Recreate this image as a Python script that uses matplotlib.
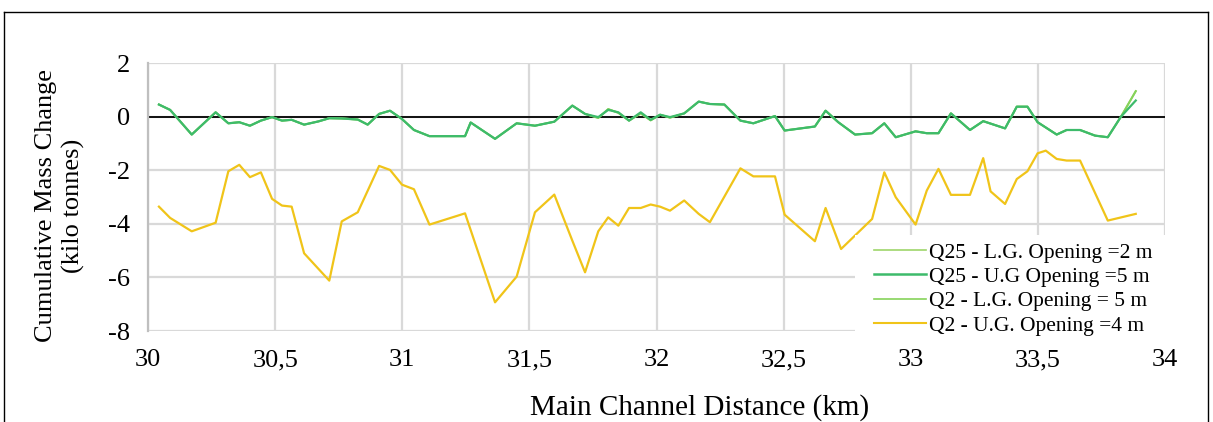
import matplotlib
matplotlib.use("Agg")
import matplotlib.pyplot as plt
from matplotlib.lines import Line2D

# ---------------- data ----------------
x_green = [30.043, 30.087, 30.172, 30.266, 30.316, 30.359, 30.401, 30.444, 30.488, 30.527,
           30.565, 30.614, 30.670, 30.713, 30.762, 30.825, 30.864, 30.909, 30.952, 30.999,
           31.046, 31.107, 31.247, 31.269, 31.365, 31.450, 31.522, 31.598, 31.669, 31.719,
           31.771, 31.810, 31.850, 31.892, 31.938, 31.977, 32.014, 32.053, 32.109, 32.166,
           32.210, 32.267, 32.330, 32.381, 32.466, 32.504, 32.623, 32.665, 32.715, 32.781,
           32.848, 32.896, 32.941, 33.019, 33.063, 33.109, 33.158, 33.233, 33.285, 33.371,
           33.417, 33.459, 33.499, 33.574, 33.613, 33.666, 33.725, 33.775, 33.827, 33.885]

q25_ug = [0.45, 0.25, -0.67, 0.16, -0.25, -0.21, -0.34, -0.15, -0.02, -0.15,
          -0.12, -0.30, -0.18, -0.06, -0.07, -0.11, -0.30, 0.10, 0.22, -0.09,
          -0.50, -0.73, -0.73, -0.22, -0.83, -0.25, -0.34, -0.19, 0.41, 0.10,
          -0.02, 0.25, 0.16, -0.15, 0.16, -0.12, 0.07, -0.02, 0.12, 0.56,
          0.47, 0.45, -0.15, -0.25, 0.02, -0.52, -0.37, 0.22, -0.21, -0.67,
          -0.62, -0.25, -0.77, -0.55, -0.62, -0.62, 0.12, -0.50, -0.17, -0.44,
          0.37, 0.37, -0.21, -0.67, -0.50, -0.50, -0.71, -0.77, 0.00, 0.60]

q25_lg = [0.45, 0.25, -0.67, 0.16, -0.25, -0.21, -0.34, -0.15, -0.02, -0.15,
          -0.12, -0.30, -0.18, -0.06, -0.07, -0.11, -0.30, 0.10, 0.22, -0.09,
          -0.50, -0.73, -0.73, -0.22, -0.83, -0.25, -0.34, -0.19, 0.41, 0.10,
          -0.05, 0.28, 0.14, -0.15, 0.12, -0.14, 0.07, -0.04, 0.12, 0.56,
          0.47, 0.45, -0.15, -0.25, 0.02, -0.52, -0.37, 0.22, -0.21, -0.67,
          -0.62, -0.25, -0.77, -0.55, -0.62, -0.62, 0.12, -0.50, -0.17, -0.44,
          0.37, 0.37, -0.21, -0.67, -0.50, -0.50, -0.71, -0.77, 0.00, 0.95]

q2_lg = [0.45, 0.25, -0.67, 0.16, -0.25, -0.21, -0.34, -0.15, -0.02, -0.15,
         -0.12, -0.30, -0.18, -0.06, -0.07, -0.11, -0.30, 0.10, 0.22, -0.09,
         -0.50, -0.73, -0.73, -0.22, -0.83, -0.25, -0.34, -0.19, 0.41, 0.10,
         -0.05, 0.28, 0.14, -0.15, 0.12, -0.14, 0.07, -0.04, 0.12, 0.56,
         0.47, 0.45, -0.15, -0.25, 0.02, -0.52, -0.37, 0.22, -0.21, -0.67,
         -0.62, -0.25, -0.77, -0.55, -0.62, -0.62, 0.12, -0.50, -0.17, -0.44,
         0.37, 0.37, -0.21, -0.67, -0.50, -0.50, -0.71, -0.77, 0.00, 0.95]

x_yellow = [30.043, 30.087, 30.172, 30.266, 30.316, 30.359, 30.401, 30.444, 30.488, 30.527,
            30.565, 30.614, 30.713, 30.762, 30.825, 30.909, 30.952, 30.999, 31.046, 31.107,
            31.247, 31.365, 31.450, 31.522, 31.598, 31.669, 31.719, 31.771, 31.810, 31.850,
            31.892, 31.938, 31.977, 32.014, 32.053, 32.109, 32.166, 32.210, 32.330, 32.381,
            32.466, 32.504, 32.623, 32.665, 32.726, 32.848, 32.896, 32.941, 33.019, 33.063,
            33.109, 33.158, 33.233, 33.285, 33.314, 33.371, 33.417, 33.459, 33.499, 33.531,
            33.574, 33.613, 33.666, 33.775, 33.885]

q2_ug = [-3.36, -3.78, -4.28, -3.96, -2.04, -1.80, -2.26, -2.08, -3.07, -3.32,
         -3.36, -5.10, -6.12, -3.91, -3.57, -1.84, -1.99, -2.54, -2.71, -4.03,
         -3.61, -6.93, -5.97, -3.57, -2.91, -4.63, -5.81, -4.28, -3.76, -4.07,
         -3.41, -3.41, -3.28, -3.36, -3.51, -3.13, -3.63, -3.94, -1.93, -2.23,
         -2.23, -3.66, -4.65, -3.41, -4.94, -3.82, -2.08, -3.01, -4.03, -2.76,
         -1.95, -2.92, -2.92, -1.55, -2.79, -3.26, -2.33, -2.04, -1.37, -1.27,
         -1.58, -1.64, -1.64, -3.88, -3.63]

labels = ["Q25 - L.G. Opening =2 m", "Q25 - U.G Opening =5 m",
          "Q2 - L.G. Opening = 5 m", "Q2 - U.G. Opening =4 m"]
x_ticks = [30, 30.5, 31, 31.5, 32, 32.5, 33, 33.5, 34]
x_ticklabels = ["30", "30,5", "31", "31,5", "32", "32,5", "33", "33,5", "34"]
y_ticks = [2, 0, -2, -4, -6, -8]

# ---------------- figure ----------------
W, H = 1213, 422
fig = plt.figure(figsize=(W / 100, H / 100), dpi=100)
plt.rcParams['font.family'] = ['Liberation Serif', 'DejaVu Serif']

L, R, T, B = 148, 1165, 63, 331
ax = fig.add_axes([L / W, 1 - B / H, (R - L) / W, (B - T) / H])
ax.set_xlim(30, 34)
ax.set_ylim(-8, 2)

grid_c = '#D9D9D9'
ax.set_xticks(x_ticks)
ax.set_xticklabels(x_ticklabels)
ax.set_yticks(y_ticks)
ax.set_yticklabels([str(v) for v in y_ticks])
ax.tick_params(length=0, labelsize=19)
ax.tick_params(axis='x', pad=13)
ax.tick_params(axis='y', pad=13)
ax.grid(True, color=grid_c, linewidth=1.6)
ax.set_axisbelow(True)
for s in ['top', 'right', 'bottom']:
    ax.spines[s].set_visible(False)
ax.spines['left'].set_color('#BFBFBF')
ax.spines['left'].set_linewidth(1.6)
ax.axhline(0, color='black', linewidth=1.3, zorder=2)

c_lg1 = '#9ED66B'
c_ug1 = '#3DBB6B'
c_lg2 = '#86D35A'
c_ug2 = '#F0C419'

ax.plot(x_green, q25_lg, color=c_lg1, lw=1.4, zorder=3, label=labels[0])
ax.plot(x_green, q2_lg, color=c_lg2, lw=1.4, zorder=3, label=labels[2])
ax.plot(x_green, q25_ug, color=c_ug1, lw=1.6, zorder=4, label=labels[1])
ax.plot(x_yellow, q2_ug, color=c_ug2, lw=1.6, zorder=4, label=labels[3])

# white legend area (covers grid like the reference)
bg = plt.Rectangle((855 / W, 1 - 340 / H), (1172 - 855) / W, (340 - 235) / H,
                   transform=fig.transFigure, facecolor='white', edgecolor='none',
                   zorder=4.5, clip_on=False)
ax.add_artist(bg)

handles = [Line2D([], [], color=c_lg1, lw=1.2), Line2D([], [], color=c_ug1, lw=1.8),
           Line2D([], [], color=c_lg2, lw=1.2), Line2D([], [], color=c_ug2, lw=1.5)]
leg = ax.legend(handles, labels, loc='upper left',
                bbox_to_anchor=(868 / W, 1 - 236 / H), bbox_transform=fig.transFigure,
                borderaxespad=0, frameon=False, fontsize=15.5,
                handlelength=2.4, handletextpad=0.15, labelspacing=0.2,
                borderpad=0.3)
leg.set_zorder(10)

fig.text(700 / W, 1 - 408 / H, "Main Channel Distance (km)", ha='center', va='center',
         fontsize=21)
fig.text(60 / W, 1 - 206 / H, "Cumulative Mass Change\n(kilo tonnes)", ha='center',
         va='center', rotation=90, fontsize=19, linespacing=1.3)

# chart border
fig.add_artist(Line2D([3.5 / W, 1208 / W], [1 - 12 / H, 1 - 12 / H], color='black',
                      lw=1.0, transform=fig.transFigure))
fig.add_artist(Line2D([3.5 / W, 3.5 / W], [0, 1 - 12 / H], color='black',
                      lw=1.0, transform=fig.transFigure))
fig.add_artist(Line2D([1208 / W, 1208 / W], [0, 1 - 12 / H], color='black',
                      lw=1.0, transform=fig.transFigure))

fig.savefig("out.png", dpi=100)
